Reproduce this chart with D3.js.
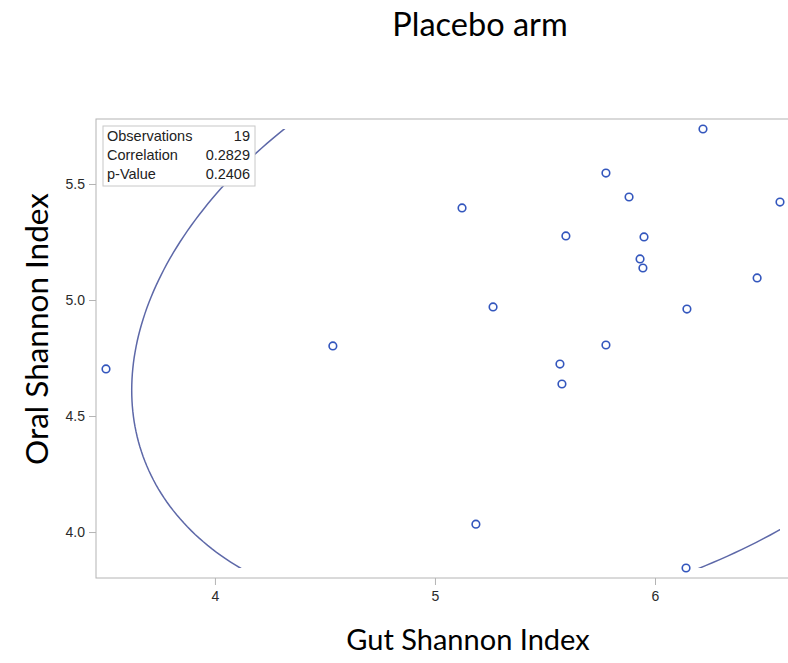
<!DOCTYPE html>
<html>
<head>
<meta charset="utf-8">
<script src="https://cdn.jsdelivr.net/npm/d3@7"></script>
<style>
  body { margin: 0; background: #fff; }
  svg { display: block; }
  .axis text { font-family: "Liberation Sans", Arial, sans-serif; font-size: 14px; fill: #2a2a2a; }
  .axis path, .axis line { stroke: #b4b4b4; }
</style>
</head>
<body>
<div id="chart"></div>
<script>
// one point per participant
const gutShannon = [3.505, 4.536, 5.123, 5.264, 5.186, 5.568, 5.577, 5.595, 5.777, 5.777,
                    5.882, 5.950, 5.932, 5.945, 6.145, 6.141, 6.218, 6.464, 6.568];
const oralShannon = [4.703, 4.802, 5.397, 4.970, 4.034, 4.724, 4.638, 5.276, 5.547, 4.806,
                     5.444, 5.272, 5.177, 5.138, 4.961, 3.845, 5.737, 5.095, 5.422];
const xTicks = [4, 5, 6];
const yTicks = [4.0, 4.5, 5.0, 5.5];
const statLabels = ["Observations", "Correlation", "p-Value"];
const statValues = ["19", "0.2829", "0.2406"];

const W = 788, H = 663;
const plot = { left: 96, top: 119, right: 790, bottom: 578 };
const pad = 10;

const data = gutShannon.map((g, i) => ({ x: g, y: oralShannon[i] }));

const svg = d3.select("#chart").append("svg")
  .attr("width", W)
  .attr("height", H);

const x = d3.scaleLinear()
  .domain(d3.extent(gutShannon))
  .range([plot.left + pad, plot.right - pad]);
const y = d3.scaleLinear()
  .domain(d3.extent(oralShannon))
  .range([plot.bottom - pad, plot.top + pad]);

// frame
svg.append("rect")
  .attr("x", plot.left)
  .attr("y", plot.top)
  .attr("width", plot.right - plot.left)
  .attr("height", plot.bottom - plot.top)
  .attr("fill", "none")
  .attr("stroke", "#b4b4b4");

svg.append("g")
  .attr("class", "axis")
  .attr("transform", `translate(0,${plot.bottom})`)
  .call(d3.axisBottom(x).tickValues(xTicks).tickFormat(d3.format("d")).tickSizeOuter(0).tickSize(7).tickPadding(6))
  .call(g => g.select(".domain").remove());

svg.append("g")
  .attr("class", "axis")
  .attr("transform", `translate(${plot.left},0)`)
  .call(d3.axisLeft(y).tickValues(yTicks).tickFormat(d3.format(".1f")).tickSizeOuter(0).tickSize(7).tickPadding(4))
  .call(g => g.select(".domain").remove());

// 95% prediction ellipse from the sample mean and covariance
const n = data.length;
const mx = d3.mean(gutShannon), my = d3.mean(oralShannon);
const sx = d3.deviation(gutShannon), sy = d3.deviation(oralShannon);
const r = d3.sum(data, d => (d.x - mx) * (d.y - my)) / ((n - 1) * sx * sy);
const fq = ((n - 2) / 2) * (Math.pow(0.05, -2 / (n - 2)) - 1);
const c = Math.sqrt((1 + 1 / n) * (2 * (n - 1) / (n - 2)) * fq);
const ellipse = d3.range(0, 361).map(a => {
  const t = a * Math.PI / 180;
  return {
    x: mx + c * sx * Math.cos(t),
    y: my + c * sy * (r * Math.cos(t) + Math.sqrt(1 - r * r) * Math.sin(t))
  };
});

svg.append("clipPath")
  .attr("id", "data-box")
  .append("rect")
  .attr("x", x(d3.min(gutShannon)))
  .attr("y", y(d3.max(oralShannon)))
  .attr("width", x(d3.max(gutShannon)) - x(d3.min(gutShannon)))
  .attr("height", y(d3.min(oralShannon)) - y(d3.max(oralShannon)));

svg.append("path")
  .datum(ellipse)
  .attr("clip-path", "url(#data-box)")
  .attr("fill", "none")
  .attr("stroke", "#5d68a8")
  .attr("stroke-width", 1.5)
  .attr("d", d3.line().x(d => x(d.x)).y(d => y(d.y)));

svg.selectAll("circle.pt")
  .data(data)
  .enter()
  .append("circle")
  .attr("class", "pt")
  .attr("cx", d => x(d.x))
  .attr("cy", d => y(d.y))
  .attr("r", 3.8)
  .attr("fill", "#fff")
  .attr("stroke", "#3356bd")
  .attr("stroke-width", 1.6);

// statistics inset
const box = svg.append("g").attr("transform", "translate(103,126)");
box.append("rect")
  .attr("width", 152)
  .attr("height", 60)
  .attr("fill", "#fff")
  .attr("stroke", "#c8c8c8");
statLabels.forEach((lab, i) => {
  box.append("text")
    .attr("x", 4)
    .attr("y", 15 + i * 19.2)
    .attr("font-family", "Liberation Sans, Arial, sans-serif")
    .attr("font-size", 14.5)
    .attr("fill", "#222")
    .text(lab);
  box.append("text")
    .attr("x", 147)
    .attr("y", 15 + i * 19.2)
    .attr("text-anchor", "end")
    .attr("font-family", "Liberation Sans, Arial, sans-serif")
    .attr("font-size", 14.5)
    .attr("fill", "#222")
    .text(statValues[i]);
});

// titles
svg.append("text")
  .attr("x", 480)
  .attr("y", 36)
  .attr("text-anchor", "middle")
  .attr("font-family", "Lato, sans-serif")
  .attr("font-size", 32.5)
  .attr("fill", "#000")
  .text("Placebo arm");

svg.append("text")
  .attr("x", 468)
  .attr("y", 650)
  .attr("text-anchor", "middle")
  .attr("font-family", "Lato, sans-serif")
  .attr("font-size", 29)
  .attr("fill", "#000")
  .text("Gut Shannon Index");

svg.append("text")
  .attr("transform", "translate(48,329) rotate(-90)")
  .attr("text-anchor", "middle")
  .attr("font-family", "Lato, sans-serif")
  .attr("font-size", 31.5)
  .attr("fill", "#000")
  .text("Oral Shannon Index");
</script>
</body>
</html>
